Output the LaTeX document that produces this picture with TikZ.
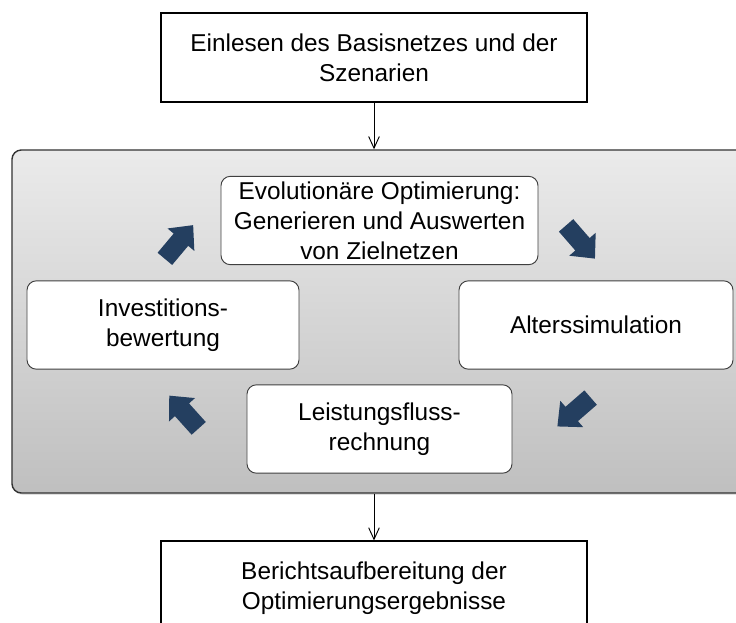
\documentclass[tikz,border=0pt]{standalone}
\usepackage{fontspec}
\setmainfont{Liberation Sans}
\usetikzlibrary{arrows.meta, shadows}

\definecolor{pfeilblau}{HTML}{243F60}

\begin{document}
\begin{tikzpicture}[
            x=0.03cm, y=-0.03cm,
            font=\fontsize{20.8}{25.6}\selectfont,
            kasten/.style={draw=black, line width=0.9pt, fill=white, align=center,
                           inner sep=0pt, minimum width=12.78cm, minimum height=2.67cm},
            schritt/.style={draw=black!75, line width=0.8pt, fill=white, align=center,
                            rounded corners=8pt, inner sep=0pt, minimum height=2.65cm},
            rahmen/.style={draw=black!80, line width=1.2pt, rounded corners=8pt,
                           top color=black!8, bottom color=black!25,
                           minimum width=22.2cm, minimum height=10.29cm,
                           drop shadow={shadow xshift=1pt, shadow yshift=-1.5pt, opacity=0.25}},
            pfeil/.style={-{Straight Barb[length=3.5mm, width=3.2mm]}, line width=0.8pt},
            blockpfeil/.pic={\fill[pfeilblau] (-22,-9.5) -- (3,-9.5) -- (3,-17.5) -- (22,0)
                                 -- (3,17.5) -- (3,9.5) -- (-22,9.5) -- cycle;}
        ]

        \useasboundingbox (0,0) rectangle (736,622);
        \clip (0,0) rectangle (736,622);

        % Eingabe
        \node[kasten] (einlesen) at (374, 57.5) {Einlesen des Basisnetzes und der\\Szenarien};

        % --- Optimierungsschleife ---
        \node[rahmen] (schleife) at (382, 321.5) {};
        \node[schritt, minimum width=9.51cm] (evo) at (379.5, 220.5)
            {Evolutionäre Optimierung:\\Generieren und Auswerten\\von Zielnetzen};
        \node[schritt, minimum width=8.22cm] (alter) at (596, 325) {Alterssimulation};
        \node[schritt, minimum width=7.95cm] (lfr) at (379.5, 429) {Leistungsfluss-\\rechnung};
        \node[schritt, minimum width=8.16cm] (invest) at (163, 325) {Investitions-\\bewertung};

        \pic[rotate=50]   at (179, 242)   {blockpfeil};
        \pic[rotate=-49]  at (580.5, 242) {blockpfeil};
        \pic[rotate=221]  at (574, 412)   {blockpfeil};
        \pic[rotate=132]  at (184, 412)   {blockpfeil};

        % Ausgabe
        \node[kasten, minimum height=2.85cm] (bericht) at (374, 588.5)
            {Berichtsaufbereitung der\\Optimierungsergebnisse};

        \draw[pfeil] (einlesen.south) -- (einlesen.south |- schleife.north);
        \draw[pfeil] (bericht.north |- schleife.south) -- (bericht.north);

        \end{tikzpicture}
\end{document}
